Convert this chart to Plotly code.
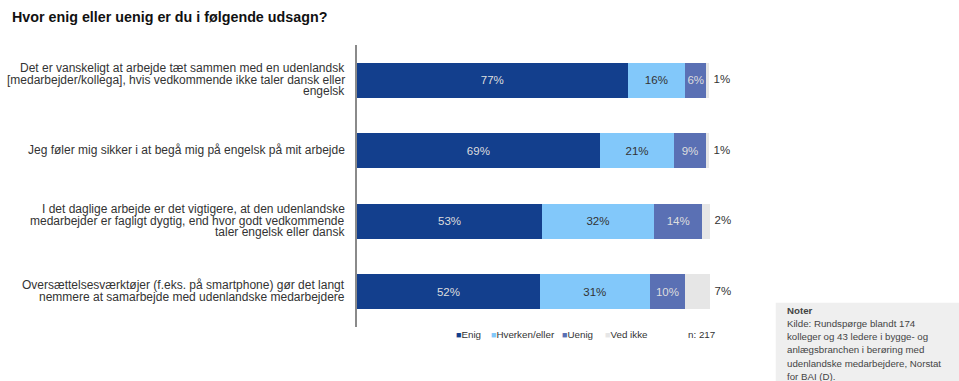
import plotly.graph_objects as go

# ---- data ----
categories = [
    "Det er vanskeligt at arbejde tæt sammen med en udenlandsk<br>[medarbejder/kollega], hvis vedkommende ikke taler dansk eller<br>engelsk",
    "Jeg føler mig sikker i at begå mig på engelsk på mit arbejde",
    "I det daglige arbejde er det vigtigere, at den udenlandske<br>medarbejder er fagligt dygtig, end hvor godt vedkommende<br>taler engelsk eller dansk",
    "Oversættelsesværktøjer (f.eks. på smartphone) gør det langt<br>nemmere at samarbejde med udenlandske medarbejdere",
]
series_names = ["Enig", "Hverken/eller", "Uenig", "Ved ikke"]
enig = [76.9, 69.0, 52.6, 52.0]
hverken = [16.4, 21.2, 31.8, 31.2]
uenig = [6.0, 8.9, 13.8, 10.1]
ved_ikke = [0.7, 0.9, 2.1, 7.0]
enig_labels = ["77%", "69%", "53%", "52%"]
hverken_labels = ["16%", "21%", "32%", "31%"]
uenig_labels = ["6%", "9%", "14%", "10%"]
ved_ikke_labels = ["1%", "1%", "2%", "7%"]
n_label = "n: 217"
title_text = "Hvor enig eller uenig er du i følgende udsagn?"
note_title = "Noter"
note_lines = [
    "Kilde: Rundspørge blandt 174",
    "kolleger og 43 ledere i bygge- og",
    "anlægsbranchen i berøring med",
    "udenlandske medarbejdere, Norstat",
    "for BAI (D).",
]

# ---- style ----
colors = ["#133f8d", "#82c8fa", "#5a70b4", "#e6e6e6"]
text_colors = ["#dedede", "#333333", "#dedede", "#333333"]
FONT = "Liberation Sans, Arial, sans-serif"

values = [enig, hverken, uenig, ved_ikke]
labels = [enig_labels, hverken_labels, uenig_labels, ved_ikke_labels]

fig = go.Figure()
for i, (name, vals, col) in enumerate(zip(series_names, values, colors)):
    inside = i < 3
    fig.add_trace(go.Bar(
        y=categories, x=vals, name=name, orientation="h",
        marker=dict(color=col, line=dict(width=0)),
        text=labels[i] if inside else None,
        textposition="inside" if inside else "none",
        insidetextanchor="middle", textangle=0,
        textfont=dict(color=text_colors[i], size=11.5, family=FONT),
        constraintext="none", cliponaxis=False,
        hoverinfo="skip", showlegend=False,
    ))

# "Ved ikke" labels placed just beyond the end of each stacked bar
totals = [a + b + c + d for a, b, c, d in zip(enig, hverken, uenig, ved_ikke)]
fig.add_trace(go.Scatter(
    y=categories, x=totals, mode="markers+text", text=ved_ikke_labels,
    textposition="middle right", cliponaxis=False,
    marker=dict(size=6, color="rgba(0,0,0,0)"),
    textfont=dict(color=text_colors[3], size=11.5, family=FONT),
    hoverinfo="skip", showlegend=False,
))

# plot area geometry (pixels)
W, H = 959, 381
X_MAX = 112
PX_PER_UNIT = 3.52
L, T, B = 357, 45, 327
R = L + PX_PER_UNIT * X_MAX

def px(x):
    return (x - L) / (R - L)

def py(y):
    return (B - y) / (B - T)

fig.update_layout(
    width=W, height=H,
    margin=dict(l=L, r=W - R, t=T, b=H - B, pad=0),
    barmode="stack", bargap=0.5,
    plot_bgcolor="white", paper_bgcolor="white",
    font=dict(family=FONT, color="#333333", size=11),
    xaxis=dict(range=[0, X_MAX], visible=False, fixedrange=True),
    yaxis=dict(
        autorange="reversed", showline=True, linecolor="#8a8a8a", linewidth=2,
        ticks="", showgrid=False, zeroline=False, showticklabels=False,
    ),
    title=dict(
        text="<b>" + title_text + "</b>", x=12 / W, xanchor="left",
        y=1 - 16.5 / H, yanchor="middle",
        font=dict(size=14.3, color="#111111", family=FONT),
    ),
)

# category labels, one line at a time with tight line spacing
LINE = 11.7
for cat in categories:
    lines = cat.split("<br>")
    n = len(lines)
    for j, ln in enumerate(lines):
        fig.add_annotation(
            x=px(347), xref="paper", y=cat, yref="y",
            yshift=((n - 1) / 2 - j) * LINE + 0.5,
            xanchor="right", yanchor="middle", showarrow=False,
            text=ln, font=dict(size=12, color="#333333", family=FONT),
        )

# legend as text
legend_x = [454, 489, 560, 602.7]
for name, col, lx in zip(series_names, colors, legend_x):
    fig.add_annotation(
        x=px(lx), y=py(334), xref="paper", yref="paper",
        xanchor="left", yanchor="middle", showarrow=False,
        text=f'<span style="color:{col};font-size:9px">■</span>{name}',
        font=dict(size=9.8, color="#333333", family=FONT),
    )
fig.add_annotation(
    x=px(686.7), y=py(334), xref="paper", yref="paper",
    xanchor="left", yanchor="middle", showarrow=False,
    text=n_label, font=dict(size=9.8, color="#333333", family=FONT),
)

# note box
fig.add_shape(
    type="rect", xref="paper", yref="paper",
    x0=px(776), x1=px(960), y0=py(382), y1=py(302.7),
    fillcolor="#efefef", line=dict(width=0), layer="below",
)
note_all = ["<b>" + note_title + "</b>"] + note_lines
for k, ln in enumerate(note_all):
    fig.add_annotation(
        x=px(785), y=py(310 + k * 13.3), xref="paper", yref="paper",
        xanchor="left", yanchor="middle", align="left", showarrow=False,
        text=ln, font=dict(size=9.7, color="#444444", family=FONT),
    )

fig.write_html("out.html")
